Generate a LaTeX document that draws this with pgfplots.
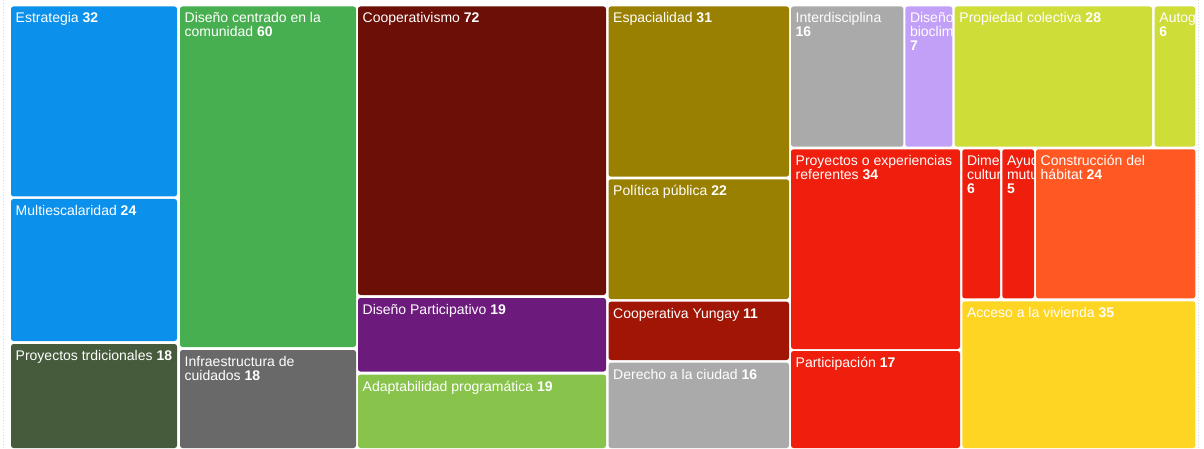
\documentclass[border=0pt]{standalone}
\usepackage{fontspec}
\setmainfont{Liberation Sans}
\usepackage{pgfplots}
\pgfplotsset{compat=1.18}
\definecolor{cBlue}{HTML}{0B90EB}
\definecolor{cDkGreen}{HTML}{465A3C}
\definecolor{cGreen}{HTML}{47AF4F}
\definecolor{cDkGray}{HTML}{696969}
\definecolor{cDkRed}{HTML}{6B0F07}
\definecolor{cPurple}{HTML}{6D1A7D}
\definecolor{cLtGreen}{HTML}{88C34B}
\definecolor{cOlive}{HTML}{9A8000}
\definecolor{cYungay}{HTML}{A01504}
\definecolor{cGray}{HTML}{AAAAAA}
\definecolor{cLav}{HTML}{C3A0F8}
\definecolor{cLime}{HTML}{CEDD38}
\definecolor{cRed}{HTML}{F01E0D}
\definecolor{cOrange}{HTML}{FF5823}
\definecolor{cYellow}{HTML}{FFD524}
\newcommand\tile[5]{\addplot[fill=#1,draw=none,rounded corners=2.5pt] coordinates {(#2,#4) (#3,#4) (#3,#5) (#2,#5)} -- cycle;}
\newcommand\lbl[3]{\node[anchor=base west,inner sep=0pt,text=white,font=\fontsize{14}{14}\selectfont] at (axis cs:#1,#2) {#3};}
\begin{document}
\begin{tikzpicture}
\begin{axis}[
  x=1pt, y=1pt,
  xmin=0, xmax=1204, ymin=0, ymax=449,
  y dir=reverse,
  ticks=none,
  axis line style={draw=none},
  clip=true,
]
% faint dotted guides
\addplot[draw=black!15, dotted, line width=1pt] coordinates {(3,0) (3,449)};
\addplot[draw=black!15, dotted, line width=1pt] coordinates {(1198,0) (1198,449)};
% tiles: color, x0, x1, y0, y1
\tile{cBlue}{11}{177}{6.5}{196.5}
\tile{cBlue}{11}{177}{199}{341}
\tile{cDkGreen}{11}{177}{344}{448}
\tile{cGreen}{180}{356}{6.5}{347}
\tile{cDkGray}{180}{356}{350}{448}
\tile{cDkRed}{358}{606}{6.5}{295}
\tile{cPurple}{358}{606}{298}{371.5}
\tile{cLtGreen}{358}{606}{374.5}{448}
\tile{cOlive}{608.5}{789}{6.5}{176.7}
\tile{cOlive}{608.5}{789}{179.3}{299}
\tile{cYungay}{608.5}{789}{301.7}{360}
\tile{cGray}{608.5}{789}{362.7}{448}
\tile{cGray}{791}{903.3}{6.5}{146.7}
\tile{cLav}{905.3}{952.3}{6.5}{146.7}
\tile{cLime}{954.7}{1152}{6.5}{146.7}
\tile{cLime}{1154.7}{1195.3}{6.5}{146.7}
\tile{cRed}{791}{960}{149.3}{349}
\tile{cRed}{962.3}{1000}{149.3}{298.3}
\tile{cRed}{1002.3}{1034}{149.3}{298.3}
\tile{cOrange}{1036}{1195.3}{149.3}{298.3}
\tile{cRed}{791}{960}{351}{448}
\tile{cYellow}{962.3}{1195.3}{301.3}{448}
% labels
\lbl{15.5}{23}{Estrategia \textbf{32}}
\lbl{15.5}{215.5}{Multiescalaridad \textbf{24}}
\lbl{15.5}{360.5}{Proyectos trdicionales \textbf{18}}
\lbl{184.5}{23}{Diseño centrado en la}
\lbl{184.5}{37}{comunidad \textbf{60}}
\lbl{184.5}{366.5}{Infraestructura de}
\lbl{184.5}{380.5}{cuidados \textbf{18}}
\lbl{362.5}{23}{Cooperativismo \textbf{72}}
\lbl{362.5}{314.5}{Diseño Participativo \textbf{19}}
\lbl{362.5}{391}{Adaptabilidad programática \textbf{19}}
\lbl{613}{23}{Espacialidad \textbf{31}}
\lbl{613}{195.8}{Política pública \textbf{22}}
\lbl{613}{318.2}{Cooperativa Yungay \textbf{11}}
\lbl{613}{379.2}{Derecho a la ciudad \textbf{16}}
\lbl{795.5}{23}{Interdisciplina}
\lbl{795.5}{37}{\textbf{16}}
\lbl{959.2}{23}{Propiedad colectiva \textbf{28}}
\lbl{795.5}{165.8}{Proyectos o experiencias}
\lbl{795.5}{179.8}{referentes \textbf{34}}
\lbl{1040.5}{165.8}{Construcción del}
\lbl{1040.5}{179.8}{hábitat \textbf{24}}
\lbl{795.5}{367.5}{Participación \textbf{17}}
\lbl{966.8}{317.8}{Acceso a la vivienda \textbf{35}}
\begin{scope}
\clip (axis cs:905.3,6.5) rectangle (axis cs:952.3,146.7);
\lbl{909.8}{23}{Diseño}
\lbl{909.8}{37}{bioclim}
\lbl{909.8}{51}{\textbf{7}}
\end{scope}
\begin{scope}
\clip (axis cs:1154.7,6.5) rectangle (axis cs:1195.3,146.7);
\lbl{1159.2}{23}{Autog}
\lbl{1159.2}{37}{\textbf{6}}
\end{scope}
\begin{scope}
\clip (axis cs:962.3,149.3) rectangle (axis cs:1000,298.3);
\lbl{966.8}{165.8}{Dime}
\lbl{966.8}{179.8}{cultur}
\lbl{966.8}{193.8}{\textbf{6}}
\end{scope}
\begin{scope}
\clip (axis cs:1002.3,149.3) rectangle (axis cs:1034,298.3);
\lbl{1006.8}{165.8}{Ayud}
\lbl{1006.8}{179.8}{mutu}
\lbl{1006.8}{193.8}{\textbf{5}}
\end{scope}
\end{axis}
\end{tikzpicture}
\end{document}
